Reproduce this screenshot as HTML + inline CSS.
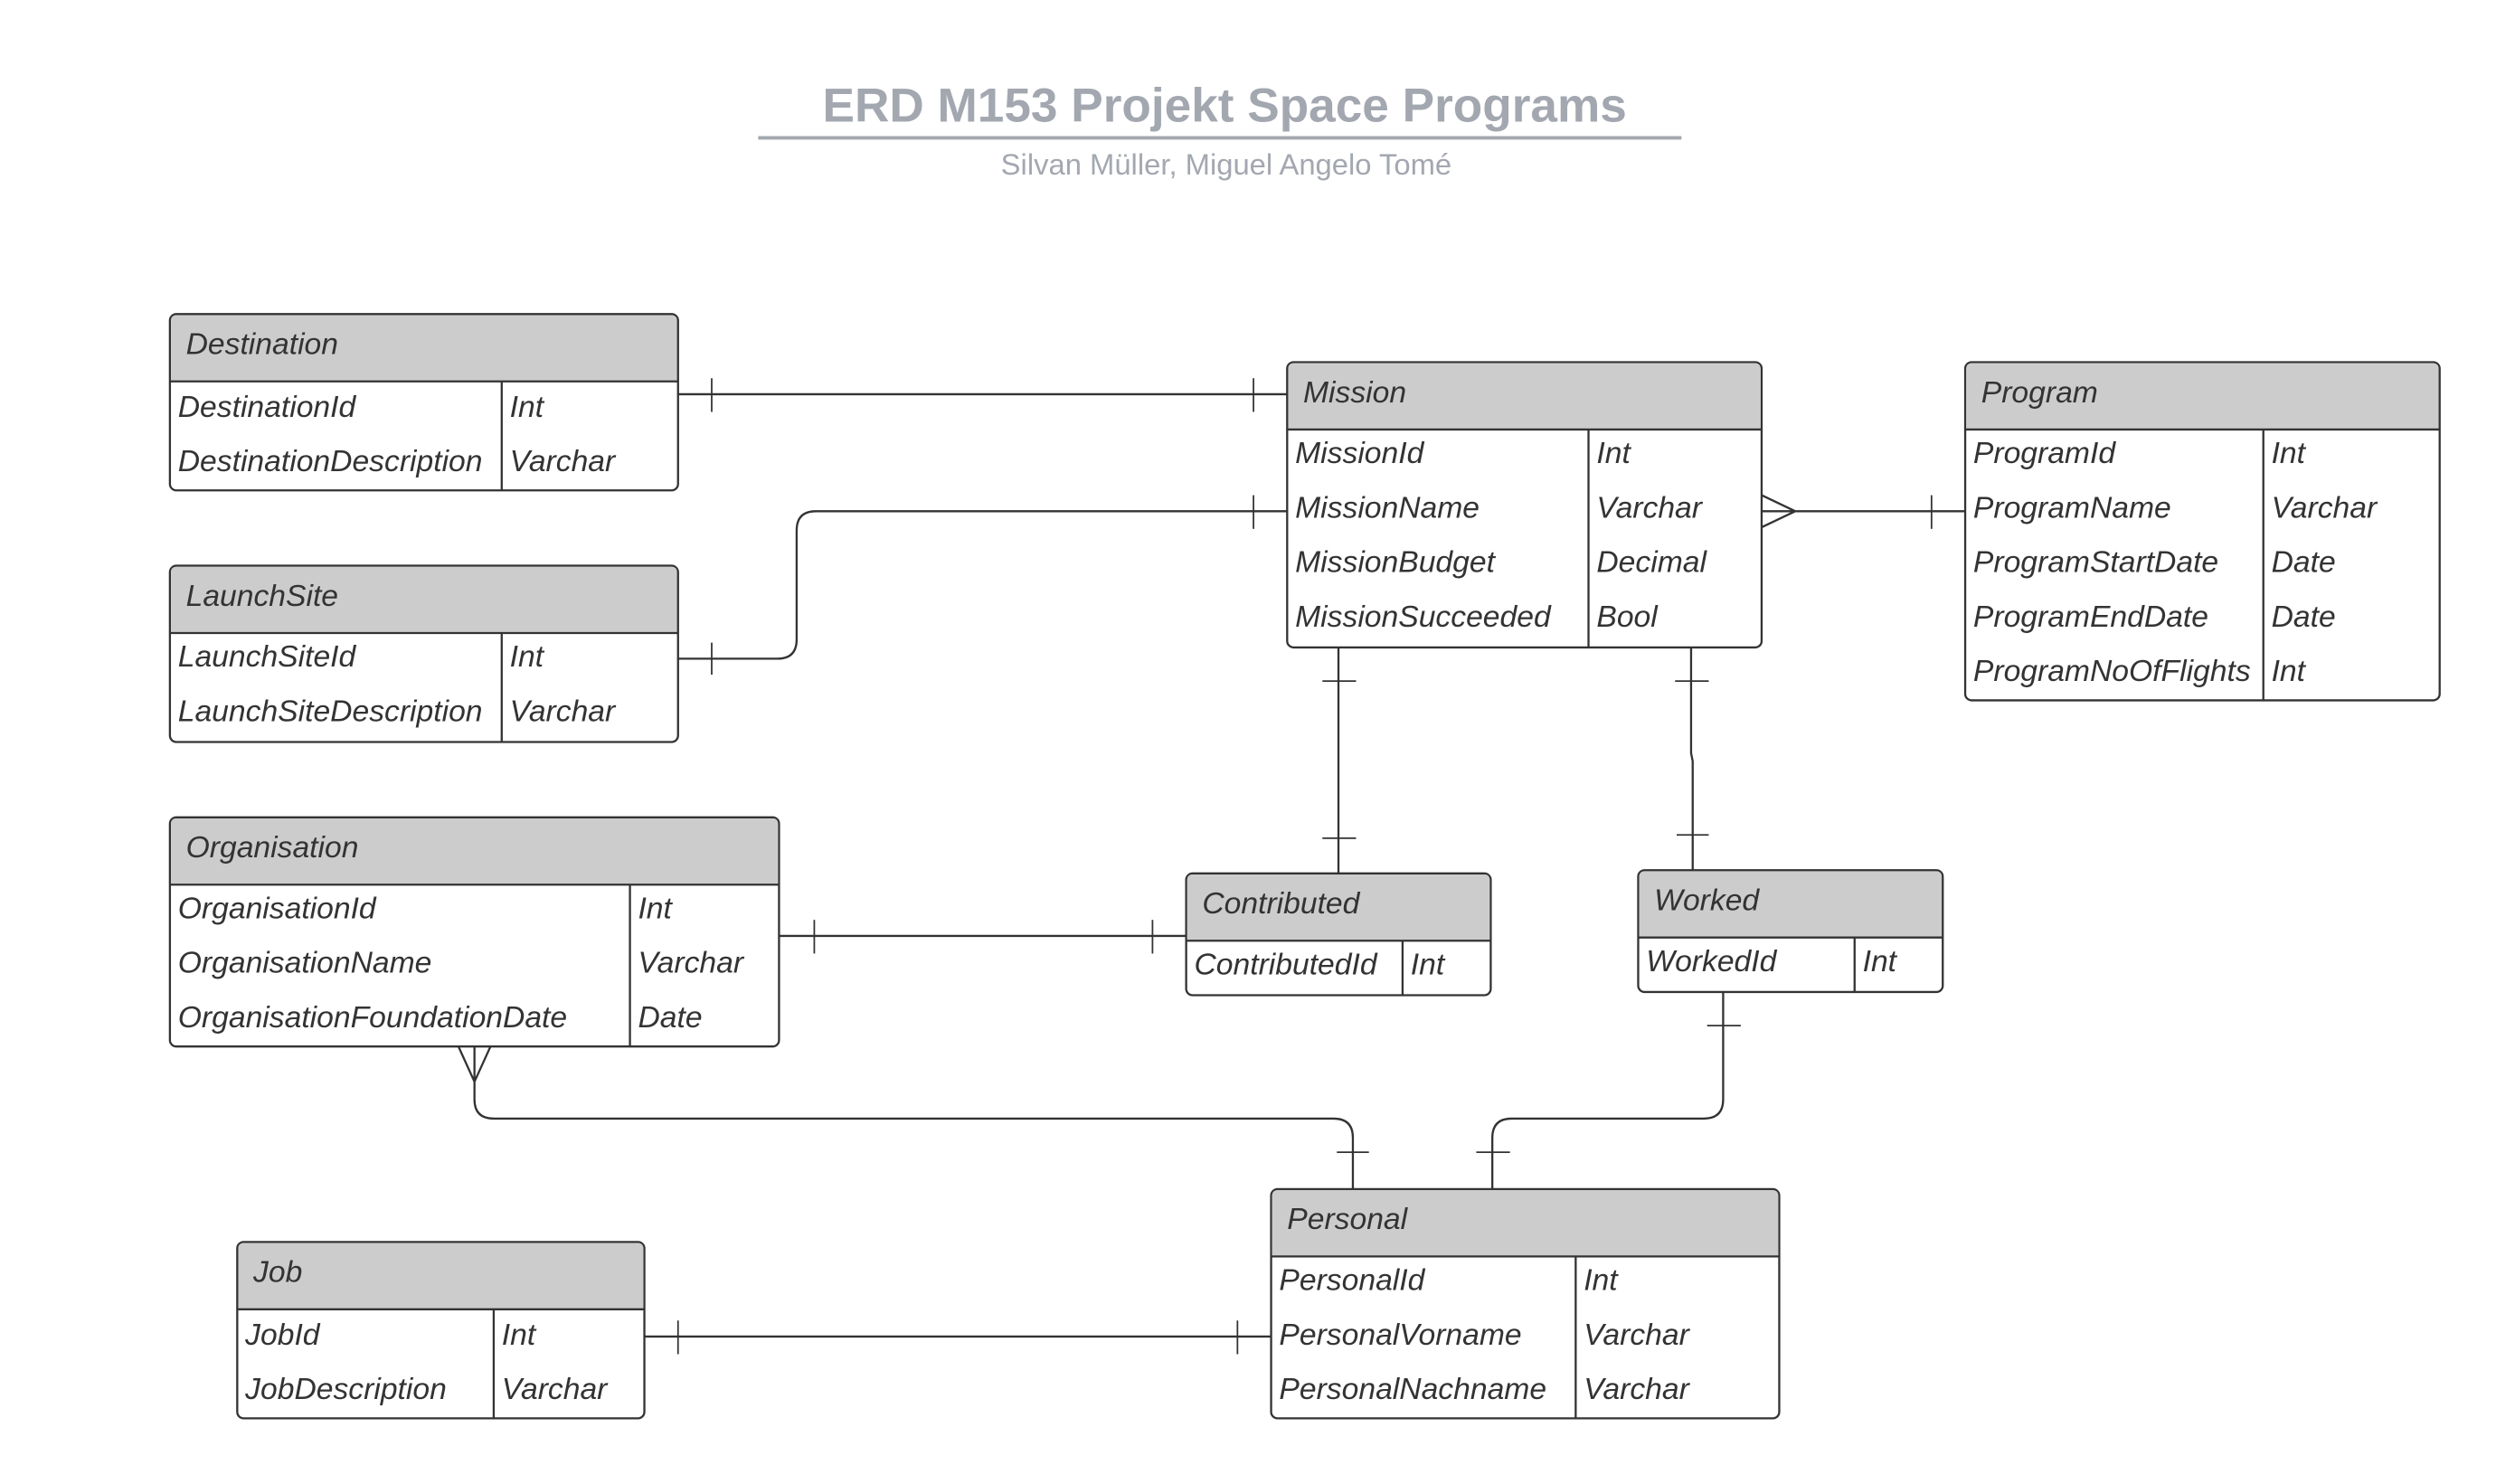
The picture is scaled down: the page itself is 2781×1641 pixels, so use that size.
<!DOCTYPE html>
<html><head><meta charset="utf-8"><style>
html,body{margin:0;padding:0;background:#fff;}
svg{display:block;}
text{font-family:"Liberation Sans",sans-serif;}
.h{font-size:19px;font-style:italic;fill:#333;}
.r{font-size:19px;font-style:italic;fill:#333;}
.b{fill:#fff;stroke:#333;stroke-width:1.3;}
.hd{fill:#ccc;}
.l{stroke:#333;stroke-width:1.3;fill:none;}
.t{stroke:#333;stroke-width:1;}
</style></head><body>
<svg width="2781" height="1641" viewBox="0 0 1569 926" preserveAspectRatio="none" xmlns="http://www.w3.org/2000/svg">
<rect width="1569" height="926" fill="#fff"/>
<text x="764" y="76" text-anchor="middle" font-size="30" font-weight="bold" fill="#a3a7b0">ERD M153 Projekt Space Programs</text>
<line x1="473" y1="86" x2="1049" y2="86" stroke="#a3a7b0" stroke-width="2.2"/>
<text x="765" y="109" text-anchor="middle" font-size="18.5" fill="#a3a7b0">Silvan Müller, Miguel Angelo Tomé</text>

<!-- connectors -->
<path class="l" d="M423 246H803"/>
<line class="t" x1="444" y1="236" x2="444" y2="257"/><line class="t" x1="782" y1="236" x2="782" y2="257"/>
<path class="l" d="M423 411H485Q497 411 497 399V331Q497 319 509 319H803"/>
<line class="t" x1="444" y1="401" x2="444" y2="421"/><line class="t" x1="782" y1="309" x2="782" y2="330"/>
<path class="l" d="M1099 319H1226M1120 319L1099 309M1120 319L1099 329"/>
<line class="t" x1="1205" y1="309" x2="1205" y2="330"/>
<path class="l" d="M835 404V545"/>
<line class="t" x1="825" y1="425" x2="846" y2="425"/><line class="t" x1="825" y1="523" x2="846" y2="523"/>
<path class="l" d="M1055 404V470L1056 475V543"/>
<line class="t" x1="1045" y1="425" x2="1066" y2="425"/><line class="t" x1="1046" y1="521" x2="1066" y2="521"/>
<path class="l" d="M486 584H740"/>
<line class="t" x1="508" y1="574" x2="508" y2="595"/><line class="t" x1="719" y1="574" x2="719" y2="595"/>
<path class="l" d="M296 653V686Q296 698 308 698H832Q844 698 844 710V742M296 675L286 653M296 675L306 653"/>
<line class="t" x1="834" y1="719" x2="854" y2="719"/>
<path class="l" d="M1075 619V686Q1075 698 1063 698H943Q931 698 931 710V742"/>
<line class="t" x1="1065" y1="640" x2="1086" y2="640"/><line class="t" x1="921" y1="719" x2="942" y2="719"/>
<path class="l" d="M402 834H793"/>
<line class="t" x1="423" y1="824" x2="423" y2="845"/><line class="t" x1="772" y1="824" x2="772" y2="845"/>

<!-- Destination -->
<g>
<rect class="b" x="106" y="196" width="317" height="110" rx="4"/>
<path class="hd" d="M110 196.7H419Q422.3 196.7 422.3 200V238H106.7V200Q106.7 196.7 110 196.7Z"/>
<path class="l" d="M106 238H423M313 238V306"/>
<text class="h" x="116" y="221">Destination</text>
<text class="r" x="111" y="260">DestinationId</text><text class="r" x="318" y="260">Int</text>
<text class="r" x="111" y="294">DestinationDescription</text><text class="r" x="318" y="294">Varchar</text>
</g>
<!-- LaunchSite -->
<g>
<rect class="b" x="106" y="353" width="317" height="110" rx="4"/>
<path class="hd" d="M110 353.7H419Q422.3 353.7 422.3 357V395H106.7V357Q106.7 353.7 110 353.7Z"/>
<path class="l" d="M106 395H423M313 395V463"/>
<text class="h" x="116" y="378">LaunchSite</text>
<text class="r" x="111" y="416">LaunchSiteId</text><text class="r" x="318" y="416">Int</text>
<text class="r" x="111" y="450">LaunchSiteDescription</text><text class="r" x="318" y="450">Varchar</text>
</g>
<!-- Organisation -->
<g>
<rect class="b" x="106" y="510" width="380" height="143" rx="4"/>
<path class="hd" d="M110 510.7H482Q485.3 510.7 485.3 514V552H106.7V514Q106.7 510.7 110 510.7Z"/>
<path class="l" d="M106 552H486M393 552V653"/>
<text class="h" x="116" y="535">Organisation</text>
<text class="r" x="111" y="573">OrganisationId</text><text class="r" x="398" y="573">Int</text>
<text class="r" x="111" y="607">OrganisationName</text><text class="r" x="398" y="607">Varchar</text>
<text class="r" x="111" y="641">OrganisationFoundationDate</text><text class="r" x="398" y="641">Date</text>
</g>
<!-- Mission -->
<g>
<rect class="b" x="803" y="226" width="296" height="178" rx="4"/>
<path class="hd" d="M807 226.7H1095Q1098.3 226.7 1098.3 230V268H803.7V230Q803.7 226.7 807 226.7Z"/>
<path class="l" d="M803 268H1099M991 268V404"/>
<text class="h" x="813" y="251">Mission</text>
<text class="r" x="808" y="289">MissionId</text><text class="r" x="996" y="289">Int</text>
<text class="r" x="808" y="323">MissionName</text><text class="r" x="996" y="323">Varchar</text>
<text class="r" x="808" y="357">MissionBudget</text><text class="r" x="996" y="357">Decimal</text>
<text class="r" x="808" y="391">MissionSucceeded</text><text class="r" x="996" y="391">Bool</text>
</g>
<!-- Program -->
<g>
<rect class="b" x="1226" y="226" width="296" height="211" rx="4"/>
<path class="hd" d="M1230 226.7H1518Q1521.3 226.7 1521.3 230V268H1226.7V230Q1226.7 226.7 1230 226.7Z"/>
<path class="l" d="M1226 268H1522M1412 268V437"/>
<text class="h" x="1236" y="251">Program</text>
<text class="r" x="1231" y="289">ProgramId</text><text class="r" x="1417" y="289">Int</text>
<text class="r" x="1231" y="323">ProgramName</text><text class="r" x="1417" y="323">Varchar</text>
<text class="r" x="1231" y="357">ProgramStartDate</text><text class="r" x="1417" y="357">Date</text>
<text class="r" x="1231" y="391">ProgramEndDate</text><text class="r" x="1417" y="391">Date</text>
<text class="r" x="1231" y="425">ProgramNoOfFlights</text><text class="r" x="1417" y="425">Int</text>
</g>
<!-- Contributed -->
<g>
<rect class="b" x="740" y="545" width="190" height="76" rx="4"/>
<path class="hd" d="M744 545.7H926Q929.3 545.7 929.3 549V587H740.7V549Q740.7 545.7 744 545.7Z"/>
<path class="l" d="M740 587H930M875 587V621"/>
<text class="h" x="750" y="570">Contributed</text>
<text class="r" x="745" y="608">ContributedId</text><text class="r" x="880" y="608">Int</text>
</g>
<!-- Worked -->
<g>
<rect class="b" x="1022" y="543" width="190" height="76" rx="4"/>
<path class="hd" d="M1026 543.7H1208Q1211.3 543.7 1211.3 547V585H1022.7V547Q1022.7 543.7 1026 543.7Z"/>
<path class="l" d="M1022 585H1212M1157 585V619"/>
<text class="h" x="1032" y="568">Worked</text>
<text class="r" x="1027" y="606">WorkedId</text><text class="r" x="1162" y="606">Int</text>
</g>
<!-- Personal -->
<g>
<rect class="b" x="793" y="742" width="317" height="143" rx="4"/>
<path class="hd" d="M797 742.7H1106Q1109.3 742.7 1109.3 746V784H793.7V746Q793.7 742.7 797 742.7Z"/>
<path class="l" d="M793 784H1110M983 784V885"/>
<text class="h" x="803" y="767">Personal</text>
<text class="r" x="798" y="805">PersonalId</text><text class="r" x="988" y="805">Int</text>
<text class="r" x="798" y="839">PersonalVorname</text><text class="r" x="988" y="839">Varchar</text>
<text class="r" x="798" y="873">PersonalNachname</text><text class="r" x="988" y="873">Varchar</text>
</g>
<!-- Job -->
<g>
<rect class="b" x="148" y="775" width="254" height="110" rx="4"/>
<path class="hd" d="M152 775.7H398Q401.3 775.7 401.3 779V817H148.7V779Q148.7 775.7 152 775.7Z"/>
<path class="l" d="M148 817H402M308 817V885"/>
<text class="h" x="158" y="800">Job</text>
<text class="r" x="153" y="839">JobId</text><text class="r" x="313" y="839">Int</text>
<text class="r" x="153" y="873">JobDescription</text><text class="r" x="313" y="873">Varchar</text>
</g>
</svg>
</body></html>
